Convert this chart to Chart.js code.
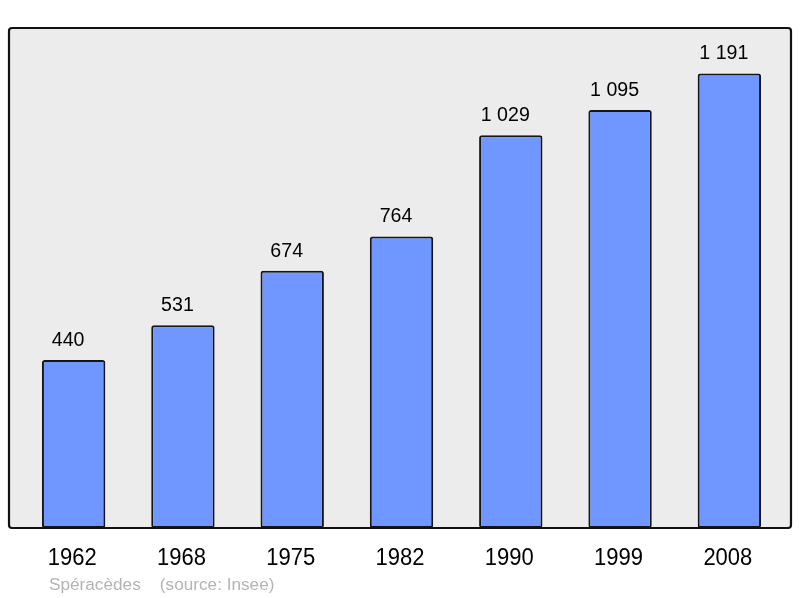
<!DOCTYPE html>
<html><head><meta charset="utf-8">
<script src="https://cdn.jsdelivr.net/npm/chart.js@4/dist/chart.umd.min.js"></script>
<style>html,body{margin:0;padding:0;background:#fff}#w{width:800px;height:598px}</style>
</head><body><div id="w"><canvas id="c" width="800" height="598"></canvas></div>
<script>
const years = ["1962","1968","1975","1982","1990","1999","2008"];
const population = [440, 531, 674, 764, 1029, 1095, 1191];
const valueLabels = ["440","531","674","764","1 029","1 095","1 191"];
const footer = "Spéracèdes    (source: Insee)";
const FONT = "'Liberation Sans', Arial, sans-serif";

function stretchedText(ctx, t, x, y, sy) {
  ctx.save();
  ctx.translate(x, y);
  ctx.scale(1, sy);
  ctx.fillText(t, 0, 0);
  ctx.restore();
}

const frame = {
  id: 'frame',
  beforeDatasetsDraw(chart) {
    const ctx = chart.ctx, a = chart.chartArea;
    const x0 = 9, x1 = 791, y0 = a.top, y1 = a.bottom;
    ctx.save();
    ctx.beginPath();
    ctx.roundRect(x0, y0, x1 - x0, y1 - y0, 3);
    ctx.fillStyle = '#ececec';
    ctx.fill();
    ctx.restore();
  },
  afterDatasetsDraw(chart) {
    const ctx = chart.ctx, a = chart.chartArea;
    const x0 = 9, x1 = 791, y0 = a.top, y1 = a.bottom;
    const xs = chart.scales.x, ys = chart.scales.y;
    ctx.save();
    ctx.beginPath();
    ctx.roundRect(x0, y0, x1 - x0, y1 - y0, 3);
    ctx.lineWidth = 2.2;
    ctx.strokeStyle = '#111';
    ctx.stroke();
    ctx.fillStyle = '#000';
    ctx.textAlign = 'center';
    ctx.textBaseline = 'alphabetic';
    ctx.font = '19.6px ' + FONT;
    population.forEach((v, i) => {
      stretchedText(ctx, valueLabels[i], xs.getPixelForValue(i) - 5.5, ys.getPixelForValue(v) - 14, 1.05);
    });
    ctx.font = '22px ' + FONT;
    years.forEach((y, i) => {
      stretchedText(ctx, y, xs.getPixelForValue(i) - 1.5, 565, 1.06);
    });
    ctx.textAlign = 'left';
    ctx.font = '17.2px ' + FONT;
    ctx.fillStyle = '#b4b4b4';
    ctx.fillText(footer, 49, 590);
    ctx.restore();
  }
};

new Chart(document.getElementById('c'), {
  type: 'bar',
  data: {
    labels: years,
    datasets: [{
      data: population,
      backgroundColor: '#7096ff',
      borderColor: '#151515',
      borderWidth: 2,
      borderRadius: 2.5,
      borderSkipped: false,
      categoryPercentage: 1,
      barPercentage: 0.58
    }]
  },
  options: {
    responsive: false,
    animation: false,
    devicePixelRatio: 1,
    layout: { padding: { left: 19, right: 16, top: 28, bottom: 70 } },
    plugins: { legend: { display: false }, tooltip: { enabled: false } },
    scales: {
      x: { display: false },
      y: { display: false, min: 0, max: 1310 }
    }
  },
  plugins: [frame]
});
</script></body></html>
